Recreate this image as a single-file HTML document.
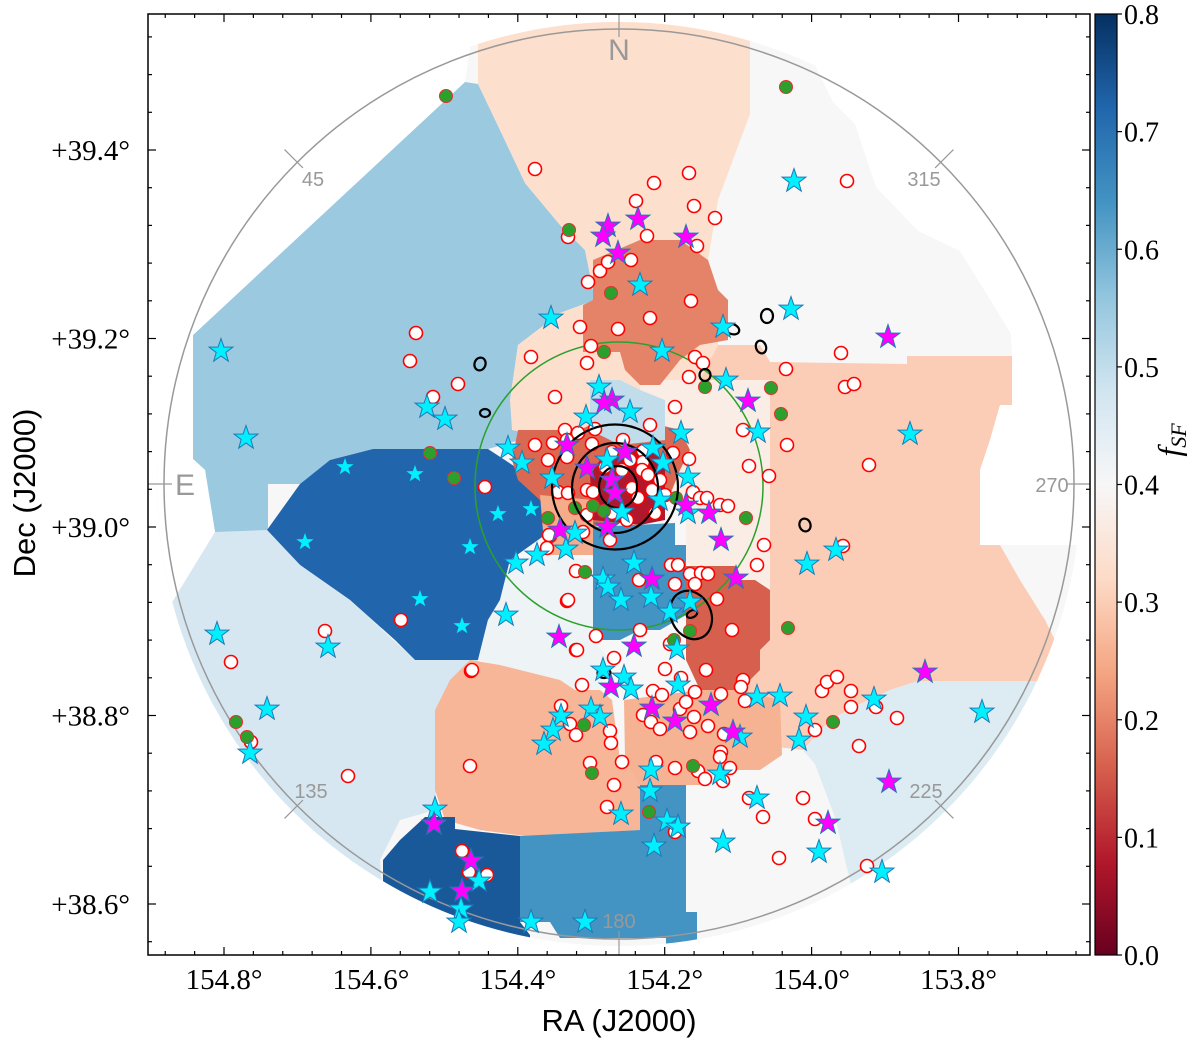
<!DOCTYPE html>
<html><head><meta charset="utf-8"><style>
html,body{margin:0;padding:0;background:#fff;}
svg{display:block;}
</style></head><body>
<svg id="chart" width="1200" height="1048" viewBox="0 0 1200 1048" xmlns="http://www.w3.org/2000/svg">
<defs>
<clipPath id="fov"><circle cx="619" cy="484" r="462"/></clipPath>
<clipPath id="frame"><rect x="148" y="14" width="942" height="941"/></clipPath>
<linearGradient id="cbgrad" x1="0" y1="1" x2="0" y2="0"></linearGradient>
</defs>
<g id="mapLayer" clip-path="url(#frame)"></g>
</svg>
<script>
// ---------- DATA (offsets from field centre, arcsec: east positive, north positive) ----------
const raTicks=[154.8,154.6,154.4,154.2,154.0,153.8];
const raTickLabels=["154.8°","154.6°","154.4°","154.2°","154.0°","153.8°"];
const decTicks=[39.4,39.2,39.0,38.8,38.6];
const decTickLabels=["+39.4°","+39.2°","+39.0°","+38.8°","+38.6°"];
const cbTicks=[0,0.1,0.2,0.3,0.4,0.5,0.6,0.7,0.8];
const cbTickLabels=["0.0","0.1","0.2","0.3","0.4","0.5","0.6","0.7","0.8"];

const regionNames=["light-blue-ne","top-salmon","right-salmon","pale-salmon-w","dark-blue-e","pale-blue-se","pale-centre-s","salmon-s","salmon-sw","dark-blue-s","blue-s","pale-blue-sw","blue-centre","red-north","red-ring","light-blue-centre","salmon-core-se","core-dark-red","red-west"];
const regionFsf=[0.55,0.33,0.30,0.37,0.72,0.47,0.42,0.265,0.26,0.74,0.64,0.455,0.64,0.20,0.17,0.50,0.25,0.08,0.16];
const regionPolys=[
[[564,1600],[476,1416],[376,1204],[236,1036],[136,936],[96,736],[236,684],[404,556],[436,336],[396,176],[524,140],[984,140],[1156,96],[1276,0],[1404,0],[1404,-192],[1616,-192],[1656,56],[1704,100],[1704,596],[616,1608]],
[[564,1976],[-524,1976],[-524,1480],[-396,1136],[-356,896],[-396,556],[-324,416],[-84,176],[236,176],[428,216],[436,336],[404,556],[236,684],[96,736],[136,936],[236,1036],[376,1204],[476,1416],[564,1600]],
[[-396,556],[-564,556],[-604,488],[-1152,480],[-1152,512],[-1572,512],[-1572,316],[-1524,316],[-1484,176],[-1444,56],[-1444,-244],[-1524,-244],[-1604,-384],[-1704,-544],[-1784,-704],[-1864,-724],[-1864,-788],[-1196,-788],[-1084,-824],[-956,-884],[-844,-944],[-736,-1064],[-564,-1044],[-484,-864],[-404,-464],[-324,-144],[-324,416]],
[[-84,416],[-604,416],[-604,-464],[-404,-464],[-268,-304],[-268,-144],[-84,176]],
[[984,140],[524,140],[396,56],[296,16],[296,-204],[436,-304],[476,-464],[524,-544],[564,-704],[816,-704],[896,-624],[1076,-464],[1276,-324],[1408,-184],[1276,0],[1156,96]],
[[1916,96],[1656,56],[1616,-192],[1408,-184],[1276,-324],[1076,-464],[816,-704],[564,-704],[596,-784],[716,-864],[736,-1304],[876,-1344],[956,-1504],[944,-1664],[1916,-1664]],
[[564,-704],[524,-544],[476,-464],[436,-304],[296,-284],[104,-304],[104,-624],[36,-704],[76,-824],[176,-824],[236,-784],[476,-724]],
[[596,-704],[476,-724],[236,-784],[176,-824],[76,-824],[28,-864],[-4,-1104],[-84,-1104],[-84,-1384],[376,-1408],[556,-1384],[696,-1344],[736,-1224],[736,-904],[676,-784]],
[[-20,-864],[-324,-824],[-484,-824],[-644,-864],[-652,-1084],[-564,-1144],[-364,-1144],[-324,-1204],[-84,-1204],[-24,-1104]],
[[776,-1332],[656,-1332],[656,-1380],[396,-1408],[396,-1752],[356,-1804],[356,-1904],[524,-1904],[656,-1804],[756,-1724],[944,-1664],[944,-1504],[876,-1424]],
[[396,-1408],[-84,-1384],[-84,-1204],[-268,-1204],[-268,-1712],[-312,-1712],[-312,-1904],[-188,-1904],[-188,-1816],[236,-1816],[276,-1752],[396,-1752]],
[[-1196,-788],[-1864,-788],[-1864,-1904],[-924,-1904],[-944,-1664],[-904,-1504],[-868,-1344],[-784,-1120],[-736,-1064],[-844,-944],[-956,-884],[-1084,-824]],
[[104,-172],[-224,-156],[-224,-244],[-268,-244],[-268,-524],[-164,-584],[-84,-584],[-4,-624],[104,-624],[104,-284]],
[[104,896],[-84,976],[-244,976],[-356,896],[-396,776],[-436,736],[-436,576],[-324,556],[-244,496],[-164,396],[-84,396],[-24,456],[-4,528],[144,528],[144,716],[104,736]],
[[404,216],[156,216],[76,256],[-84,256],[-244,216],[-284,136],[-244,56],[-196,-64],[36,-164],[236,-184],[316,-64],[404,16],[428,96]],
[[116,416],[-4,416],[-84,376],[-184,336],[-184,176],[-4,156],[116,216]],
[[316,-44],[104,-64],[104,-284],[296,-284]],
[[116,36],[76,96],[-4,116],[-84,156],[-144,136],[-184,56],[-184,-144],[-84,-164],[104,-144]],
[[-268,-328],[-464,-328],[-484,-384],[-544,-384],[-604,-424],[-604,-624],[-564,-664],[-564,-744],[-484,-824],[-324,-824],[-268,-704]]
];
// areas with no coverage (masked, drawn white)
const maskedPolys=[
[[-524,1976],[-1924,1976],[-1924,512],[-1572,512],[-1568,600],[-1488,732],[-1364,932],[-1196,1012],[-1028,1188],[-944,1440],[-856,1528],[-776,1692],[-648,1768],[-524,1812]],
[[-1572,512],[-1924,512],[-1924,-244],[-1444,-244],[-1444,56],[-1484,176],[-1524,316],[-1572,316]],
[[564,1976],[616,1608],[1704,596],[1704,100],[1656,56],[1616,-192],[1824,-532],[1960,-532],[1960,1976]]
];
const baseFsf=0.40;

const redGalaxies=[[336,1260],[204,988],[124,808],[76,852],[44,888],[156,628],[112,552],[352,508],[128,484],[812,604],[836,492],[644,400],[744,348],[256,348],[336,156],
[-912,1212],[-280,1244],[-140,1204],[-68,1132],[-300,1112],[-384,1064],[-112,992],[-312,952],[-48,896],[-288,732],[-124,664],[4,620],[-888,524],[-668,460],[-904,388],[-940,400],[-304,508],[-336,484],[-280,428],[-224,308],[-124,236],[-496,216],[-672,156],[-520,72],[-600,32],[-1000,76],
[872,-544],[1552,-712],[1176,-588],[1472,-1032],[1084,-1168],[596,-1128],[592,-748],[208,-468],[92,-608],[172,-664],[172,-348],[276,-208],[148,-804],[232,-888],[196,-960],[172,-1004],[116,-1116],[36,-988],[32,-1036],[20,-1204],[48,-1292],[628,-1468],[600,-1552],[528,-1564],
[-580,-244],[-896,-248],[-552,-324],[-80,-384],[-208,-324],[-236,-324],[-284,-360],[-328,-356],[-356,-360],[-224,-400],[-304,-400],[-392,-460],[-452,-584],[-84,-584],[-204,-640],[-184,-740],[-348,-744],[-248,-776],[-136,-828],[-172,-844],[-304,-832],[-408,-840],[-496,-784],[-488,-812],[-504,-868],[-244,-900],[-268,-872],[-300,-932],[-96,-924],[-128,-952],[-164,-980],[-284,-992],[-356,-968],[-420,-1000],
[-812,-828],[-832,-792],[-872,-772],[-928,-828],[-928,-892],[-1028,-892],[-1112,-936],[-784,-984],[-960,-1048],[-408,-1072],[-404,-1092],[-444,-1136],[-316,-1148],[-344,-1180],[-416,-1188],[-148,-1112],[-224,-1136],[-12,-1112],[-224,-1392],[-520,-1256],[-736,-1256],[-576,-1332],[-784,-1340],[-640,-1496],[-992,-1528],
[216,216],[208,176],[164,204],[284,96],[208,108],[96,220],[108,160],[264,164],[-16,176],[-96,132],[-96,88],[-216,124],[-280,100],[244,-32],[204,-36],[128,-24],[104,-32],[-12,56],[-52,-16],[-92,56],[-116,36],[-132,-24],[-76,-56],[-296,-32],[-324,-56],[-352,-56],[-404,-84],[-436,-88],[28,-116],[-32,-144],[-144,-116],[128,-124],[144,-192],[36,-224],[280,-204],[288,-256],[536,-12],[204,-464],[168,-664],[20,-696],[588,-744],[56,68],[-44,96],[28,128],[-164,16],[-184,-44]];
const greenGalaxies=[[692,1552],[200,1016],[32,764],[60,528],[756,124],[660,24],[-668,1588],[-344,388],[-608,384],[-648,280],[1532,-952],[1488,-1012],[136,-352],[284,-136],[140,-964],[108,-1156],[-508,-136],[-284,-588],[-220,-624],[-676,-576],[-856,-952],[-296,-1128],[-120,-1312],[-228,-56],[104,-88],[60,-108],[176,-96]];
const cyanStars=[[272,664],[80,388],[132,268],[444,144],[388,84],[768,308],[696,260],[1592,532],[1492,184],[-700,1212],[-84,796],[-416,628],[-688,700],[-172,532],[-428,416],[-44,288],[-248,204],[-556,208],[-1164,200],
[1608,-600],[1164,-652],[1408,-900],[1476,-1076],[452,-524],[412,-316],[328,-284],[212,-260],[64,-380],[44,-412],[232,-928],[264,-984],[300,-1040],[112,-900],[76,-932],[736,-1300],[560,-1588],[756,-1632],[632,-1700],[640,-1752],[352,-1752],[136,-1752],
[-868,-264],[-752,-320],[-60,-316],[-128,-452],[-8,-464],[-284,-472],[-204,-512],[-232,-660],[-236,-804],[-20,-772],[-48,-820],[-552,-852],[-644,-848],[-1020,-860],[-748,-932],[-720,-1024],[-1452,-912],[-484,-1012],[-404,-1160],[-128,-1144],[-124,-1228],[-192,-1348],[-236,-1372],[-8,-1320],[-140,-1448],[-552,-1256],[-416,-1432],[-800,-1472],[-1052,-1552],
[48,96],[-136,144],[-176,84],[268,24],[-164,-64],[-276,28],[-276,-116],[-12,-112],[176,-196],[64,-744]];
const cyanSmallStars=[[1256,-232],[796,-460],[628,-568],[596,-252],[1096,68],[816,40],[484,-120],[352,-100]];
const magentaStars=[[44,1032],[64,992],[28,336],[60,324],[-76,1060],[-268,988],[4,924],[-1076,588],[-516,332],[240,-612],[32,-812],[740,-1360],[592,-1508],[628,-1628],[-408,-224],[-132,-380],[-468,-376],[-60,-648],[-132,-896],[-368,-884],[-224,-948],[-456,-992],[-1224,-752],[-1080,-1192],[-836,-1356],[-24,128],[128,64],[28,16],[16,-36],[-268,-84],[-360,-116],[48,-172],[236,-184],[208,156]];

// density contours: [centreE, centreN, radiusE, radiusN, rotationDeg]
const contourLevels=[[16,-12,252,250,0],[16,-16,172,180,0],[4,-12,76,84,0],[-288,-524,80,100,-25],[-292,-520,22,14,-25],
[556,480,22,26,20],[536,284,20,16,0],[-452,620,30,20,20],[-592,672,24,28,0],[-568,548,20,26,-20],[-344,436,22,24,0],[-744,-164,22,26,-20],[60,-756,26,20,0]];
const apertureCircle=[0,-8,576];
const fovRadius=1820;

// ---------- AXES ----------
const PX_PER_ARCSEC=0.25, CX=619, CY=484;
function sx(e){return CX-e*PX_PER_ARCSEC;}
function sy(n){return CY-n*PX_PER_ARCSEC;}
function raX(ra){return 224+(154.8-ra)*734.5;}
function decY(d){return 527-(d-39.0)*942.5;}
function cbY(v){return 955-v/0.8*941;}

const rdbu=["#67001f","#b2182b","#d6604d","#f4a582","#fddbc7","#f7f7f7","#d1e5f0","#92c5de","#4393c3","#2166ac","#053061"];
function hex(c){return [parseInt(c.slice(1,3),16),parseInt(c.slice(3,5),16),parseInt(c.slice(5,7),16)];}
function cmap(v){let t=Math.max(0,Math.min(1,v/0.8))*10;let i=Math.min(9,Math.floor(t));let f=t-i;const a=hex(rdbu[i]),b=hex(rdbu[i+1]);
 return "rgb("+a.map((x,k)=>Math.round(x+(b[k]-x)*f)).join(",")+")";}

const NS="http://www.w3.org/2000/svg";
const svg=document.getElementById('chart');
function mk(tag,attrs,parent){const el=document.createElementNS(NS,tag);for(const k in attrs)el.setAttribute(k,attrs[k]);(parent||svg).appendChild(el);return el;}

// ---------- MAP ----------
const mapLayer=document.getElementById('mapLayer');
const mapG=mk('g',{'clip-path':'url(#fov)'},mapLayer);


const base=mk('circle',{cx:sx(0),cy:sy(0),r:fovRadius*PX_PER_ARCSEC+10,fill:cmap(baseFsf)},mapG);


regionPolys.forEach((poly,i)=>{
 const p=mk('polygon',{points:poly.map(q=>sx(q[0])+","+sy(q[1])).join(" "),fill:cmap(regionFsf[i])},mapG);
 
 
});
maskedPolys.forEach(poly=>{
 const p=mk('polygon',{points:poly.map(q=>sx(q[0])+","+sy(q[1])).join(" "),fill:'#fff'},mapG);
 
 
});

const fov=mk('circle',{cx:sx(0),cy:sy(0),r:fovRadius*PX_PER_ARCSEC,fill:'none',stroke:'#999',"stroke-width":1.5},mapLayer);


const compassAngles=[0,45,90,135,180,225,270,315];
compassAngles.forEach(a=>{
 const r1=fovRadius*PX_PER_ARCSEC-8,r2=fovRadius*PX_PER_ARCSEC+18;const t=a*Math.PI/180;
 const l=mk('line',{x1:CX-Math.sin(t)*r1,y1:CY-Math.cos(t)*r1,x2:CX-Math.sin(t)*r2,y2:CY-Math.cos(t)*r2,stroke:'#999',"stroke-width":1.2},mapLayer);
 
 
});
const compassLabels=[["N",619,60,30],["E",185,495,30],["270",1052,492,20],["45",313,186,20],["315",924,186,20],["135",311,798,20],["225",926,798,20],["180",619,928,20]];
compassLabels.forEach(c=>{
 const t=mk('text',{x:c[1],y:c[2],"text-anchor":"middle","font-family":"Liberation Sans, sans-serif","font-size":c[3],fill:'#999'},mapLayer);
 t.textContent=c[0];
 
 
});

const ap=mk('circle',{cx:sx(apertureCircle[0]),cy:sy(apertureCircle[1]),r:apertureCircle[2]*PX_PER_ARCSEC,fill:'none',stroke:'#2ca02c',"stroke-width":1.5},mapLayer);



function starPts(cx,cy,R){let s=[];for(let i=0;i<10;i++){const r=i%2?R*0.4:R;const a=-Math.PI/2+i*Math.PI/5;s.push((cx+r*Math.cos(a)).toFixed(1)+","+(cy+r*Math.sin(a)).toFixed(1));}return s.join(" ");}
const ptsG=mk('g',{},mapLayer);
redGalaxies.forEach(p=>{
 const c=mk('circle',{cx:sx(p[0]),cy:sy(p[1]),r:6.5,fill:'#fff',stroke:'#ff0000',"stroke-width":1.6},ptsG);
 
 
});
greenGalaxies.forEach(p=>{
 const c=mk('circle',{cx:sx(p[0]),cy:sy(p[1]),r:6.5,fill:'#2ca02c',stroke:'#e03030',"stroke-width":1},ptsG);
 
 
});
contourLevels.forEach(c=>{
 const e=mk('ellipse',{cx:sx(c[0]),cy:sy(c[1]),rx:c[2]*PX_PER_ARCSEC,ry:c[3]*PX_PER_ARCSEC,fill:'none',stroke:'#000',"stroke-width":2.2,transform:"rotate("+c[4]+" "+sx(c[0])+" "+sy(c[1])+")"},ptsG);
 
 
});
cyanSmallStars.forEach(p=>{
 const s=mk('polygon',{points:starPts(sx(p[0]),sy(p[1]),9),fill:'#00f0ff',stroke:'none'},ptsG);
 
 
});
cyanStars.forEach(p=>{
 const s=mk('polygon',{points:starPts(sx(p[0]),sy(p[1]),12.5),fill:'#00f0ff',stroke:'#1f77b4',"stroke-width":1},ptsG);
 
 
});
magentaStars.forEach(p=>{
 const s=mk('polygon',{points:starPts(sx(p[0]),sy(p[1]),12.5),fill:'#ff00ff',stroke:'#1f77b4',"stroke-width":1},ptsG);
 
 
});

// ---------- FRAME & TICKS ----------
const fr=mk('rect',{x:148,y:14,width:942,height:941,fill:'none',stroke:'#000',"stroke-width":1.5});


function tick(x1,y1,x2,y2,name){const l=mk('line',{x1,y1,x2,y2,stroke:'#000',"stroke-width":1.2});}
for(let k=-10;k<=40;k++){const ra=154.8-k*0.04;const x=raX(ra);if(x<149||x>1089)continue;const maj=k%5===0;const L=maj?8:4;
 tick(x,955,x,955-L,'x-tick');tick(x,14,x,14+L,'x-tick-top');}
for(let k=-10;k<=40;k++){const d=39.4-k*0.04+0.2;const y=decY(d);if(y<15||y>954)continue;const maj=Math.abs(Math.round((d*100))%20)===0;const L=maj?8:4;
 tick(148,y,148+L,y,'y-tick');tick(1090,y,1090-L,y,'y-tick-right');}
raTicks.forEach((ra,i)=>{const t=mk('text',{x:raX(ra),y:989,"text-anchor":"middle","font-family":"Liberation Serif, serif","font-size":29});t.textContent=raTickLabels[i];});
decTicks.forEach((d,i)=>{const t=mk('text',{x:130,y:decY(d)+10,"text-anchor":"end","font-family":"Liberation Serif, serif","font-size":29});t.textContent=decTickLabels[i];});
const xt=mk('text',{x:619,y:1031,"text-anchor":"middle","font-family":"Liberation Sans, sans-serif","font-size":31});xt.textContent="RA (J2000)";


const yt=mk('text',{x:0,y:0,"text-anchor":"middle","font-family":"Liberation Sans, sans-serif","font-size":31,transform:"translate(35,493) rotate(-90)"});yt.textContent="Dec (J2000)";



// ---------- COLORBAR ----------
const grad=document.getElementById('cbgrad');
for(let i=0;i<=20;i++){const v=i/20*0.8;const s=document.createElementNS(NS,'stop');s.setAttribute('offset',(i/20));s.setAttribute('stop-color',cmap(v));grad.appendChild(s);}
const cb=mk('rect',{x:1095,y:14,width:22,height:941,fill:'url(#cbgrad)',stroke:'#000',"stroke-width":1.2});


cbTicks.forEach((v,i)=>{tick(1117,cbY(v),1122,cbY(v),'colorbar-tick');
 const t=mk('text',{x:1124,y:cbY(v)+10,"font-family":"Liberation Serif, serif","font-size":28});t.textContent=cbTickLabels[i];
 
 });
const cbl=mk('text',{x:0,y:0,"text-anchor":"middle","font-family":"Liberation Serif, serif","font-size":32,"font-style":"italic",transform:"translate(1180,440) rotate(-90)"});


const f1=mk('tspan',{},cbl);f1.textContent="f";
const f2=mk('tspan',{"font-size":22,dy:6},cbl);f2.textContent="SF";
</script>
</body></html>
